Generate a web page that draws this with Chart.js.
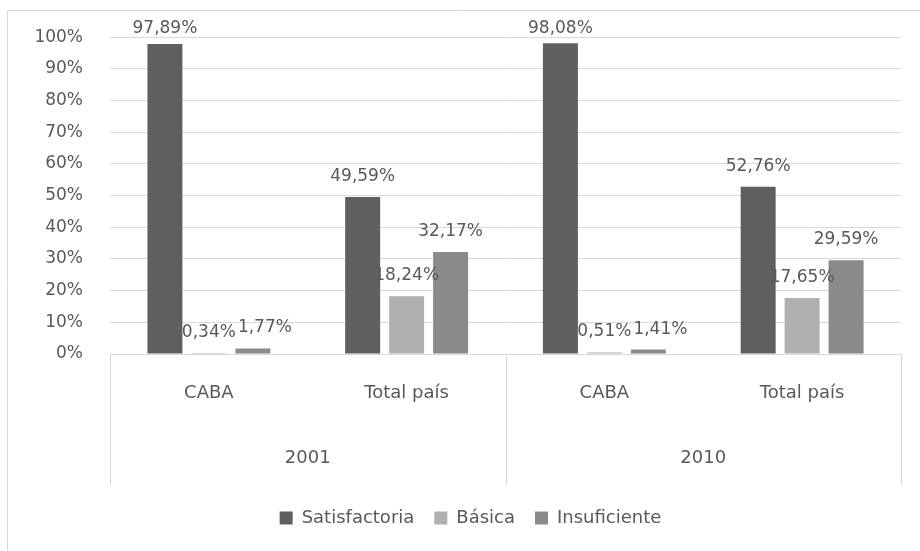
<!DOCTYPE html>
<html>
<head>
<meta charset="utf-8">
<script src="https://cdn.jsdelivr.net/npm/chart.js@4/dist/chart.umd.min.js"></script>
<style>
html,body{margin:0;padding:0;background:#fff;}
#wrap{width:920px;height:551px;position:relative;}
</style>
</head>
<body>
<div id="wrap"><canvas id="c"></canvas></div>
<script>
const categories = ['CABA', 'Total país', 'CABA', 'Total país'];
const years = ['2001', '2010'];
const seriesNames = ['Satisfactoria', 'Básica', 'Insuficiente'];
const satisfactoria = [97.89, 49.59, 98.08, 52.76];
const basica = [0.34, 18.24, 0.51, 17.65];
const insuficiente = [1.77, 32.17, 1.41, 29.59];
const yTicks = [0, 10, 20, 30, 40, 50, 60, 70, 80, 90, 100];

const TXT = '#595959';
const GRID = '#d9d9d9';
const FONT = 'DejaVu Sans';

const frame = {
  id: 'frame',
  afterLayout(chart) {
    if (chart.legend) { chart.legend.left += 6; chart.legend.right += 6; }
  },
  beforeDraw(chart) {
    const ctx = chart.ctx;
    ctx.save();
    ctx.fillStyle = '#fff';
    ctx.fillRect(0, 0, chart.width, chart.height);
    ctx.strokeStyle = GRID;
    ctx.lineWidth = 1;
    ctx.beginPath();
    ctx.moveTo(7.5, chart.height);
    ctx.lineTo(7.5, 10.5);
    ctx.lineTo(chart.width, 10.5);
    ctx.stroke();
    ctx.restore();
  },
  afterDraw(chart) {
    const ctx = chart.ctx;
    const x = chart.scales.x, x2 = chart.scales.x2;
    const mid = (x.getPixelForValue(1) + x.getPixelForValue(2)) / 2;
    const xs = [x.left, mid, x.right];
    ctx.save();
    ctx.strokeStyle = GRID;
    ctx.lineWidth = 1;
    ctx.beginPath();
    xs.forEach(px => {
      const p = Math.round(px) + 0.5;
      ctx.moveTo(p, chart.chartArea.bottom);
      ctx.lineTo(p, x2.bottom - 4);
    });
    ctx.stroke();
    ctx.restore();
  }
};

const labelsPlugin = {
  id: 'valLabels',
  afterDatasetsDraw(chart) {
    const ctx = chart.ctx;
    ctx.save();
    ctx.font = '17px "' + FONT + '"';
    ctx.fillStyle = TXT;
    ctx.textAlign = 'left';
    ctx.textBaseline = 'alphabetic';
    const n = chart.data.labels.length;
    for (let i = 0; i < n; i++) {
      const placed = [];
      chart.data.datasets.forEach((ds, di) => {
        const bar = chart.getDatasetMeta(di).data[i];
        const txt = ds.data[i].toFixed(2).replace('.', ',') + '%';
        const w = ctx.measureText(txt).width;
        const base = Math.max(bar.y - 16, 33);
        let left = bar.x - w / 2;
        const top = base - 13, bottom = base;
        placed.forEach(p => {
          if (top < p.bottom && bottom > p.top && left < p.right + 2 && left + w > p.left) {
            left = p.right + 2;
          }
        });
        placed.push({left, right: left + w, top, bottom});
        ctx.fillText(txt, left, base);
      });
    }
    ctx.restore();
  }
};

new Chart(document.getElementById('c'), {
  type: 'bar',
  data: {
    labels: categories,
    datasets: [
      {label: seriesNames[0], data: satisfactoria, backgroundColor: '#5f5f5f'},
      {label: seriesNames[1], data: basica, backgroundColor: '#b0b0b0'},
      {label: seriesNames[2], data: insuficiente, backgroundColor: '#8a8a8a'}
    ]
  },
  options: {
    responsive: true,
    maintainAspectRatio: false,
    animation: false,
    events: [],
    datasets: {bar: {categoryPercentage: 0.667, barPercentage: 0.795}},
    layout: {padding: {top: 36, right: 19, bottom: 14, left: 28}},
    plugins: {
      tooltip: {enabled: false},
      legend: {
        position: 'bottom',
        labels: {
          color: TXT,
          font: {family: FONT, size: 18},
          boxWidth: 13,
          boxHeight: 13,
          padding: 20
        }
      }
    },
    scales: {
      y: {
        min: 0, max: 100,
        afterFit(s) { s.width = 82; },
        afterBuildTicks(s) { s.ticks = yTicks.map(v => ({value: v})); },
        ticks: {
          color: TXT,
          font: {family: FONT, size: 17},
          padding: 27,
          callback: v => v + '%'
        },
        grid: {color: GRID, lineWidth: 1, drawTicks: false},
        border: {display: false}
      },
      x: {
        weight: 0,
        afterFit(s) { s.height = 66; },
        ticks: {color: TXT, font: {family: FONT, size: 18}, padding: 21},
        grid: {display: false},
        border: {display: false}
      },
      x2: {
        type: 'category',
        labels: years,
        offset: true,
        position: 'bottom',
        weight: 1,
        afterFit(s) { s.height = 69; },
        ticks: {color: TXT, font: {family: FONT, size: 18}, padding: 20},
        grid: {display: false},
        border: {display: false}
      }
    }
  },
  plugins: [frame, labelsPlugin]
});
</script>
</body>
</html>
